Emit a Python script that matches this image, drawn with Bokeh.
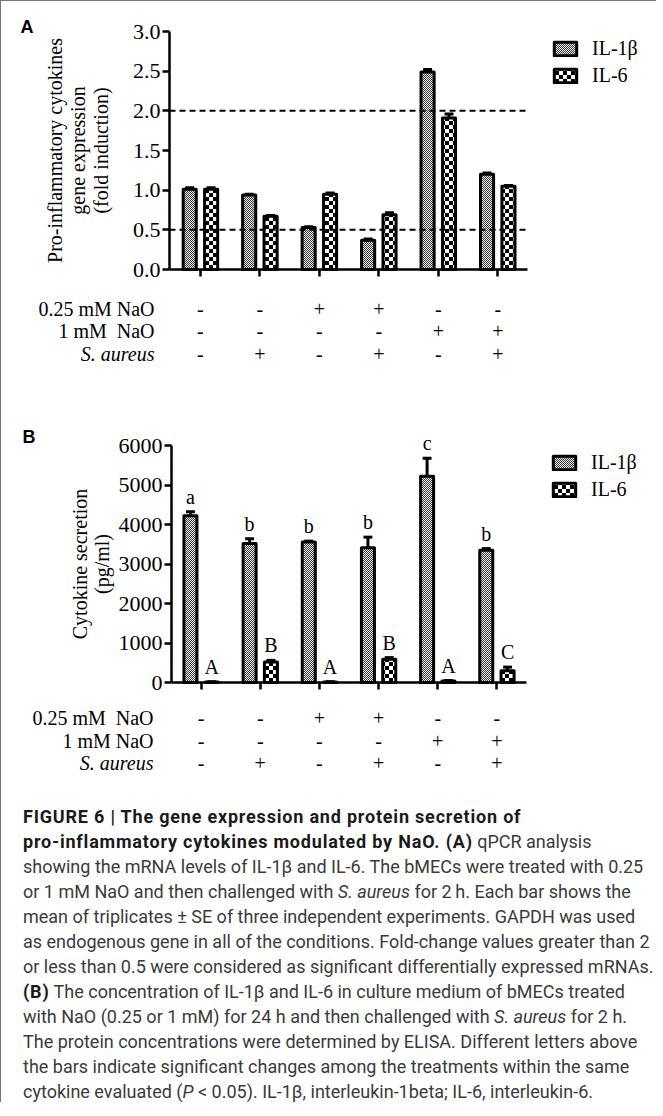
import math
import zlib
import struct
import base64
from bokeh.plotting import figure
from bokeh.models import (Range1d, FixedTicker, Label, LabelSet, Div, ImageURLTexture,
                          NumeralTickFormatter, ColumnDataSource, CustomJSTickFormatter)
from bokeh.layouts import column
from bokeh.embed import file_html
from bokeh.resources import INLINE
from bokeh.core.properties import value

# ---------------- data ----------------
series = ["IL-1β", "IL-6"]
n_groups = 6

# Panel A: fold induction
il1b_a = [1.01, 0.94, 0.53, 0.37, 2.49, 1.20]
il1b_a_err = [0.02, 0.01, 0.01, 0.015, 0.03, 0.015]
il6_a = [1.01, 0.67, 0.95, 0.69, 1.91, 1.05]
il6_a_err = [0.02, 0.01, 0.015, 0.025, 0.05, 0.01]
thresholds_a = [0.5, 2.0]
yticks_a = [0.0, 0.5, 1.0, 1.5, 2.0, 2.5, 3.0]

# Panel B: secretion (pg/ml)
il1b_b = [4220, 3520, 3560, 3410, 5220, 3350]
il1b_b_err = [100, 120, 20, 270, 460, 40]
il6_b = [15, 520, 15, 590, 40, 300]
il6_b_err = [5, 40, 5, 40, 10, 90]
letters_il1b = ["a", "b", "b", "b", "c", "b"]
letters_il6 = ["A", "B", "A", "B", "A", "C"]
yticks_b = [0, 1000, 2000, 3000, 4000, 5000, 6000]

# treatment table
na025 = ["-", "-", "+", "+", "-", "-"]
na1 = ["-", "-", "-", "-", "+", "+"]
saureus = ["-", "+", "-", "+", "-", "+"]
row_labels_a = ["0.25 mM NaO", "1 mM\u00a0 NaO", "S. aureus"]
row_labels_b = ["0.25 mM\u00a0 NaO", "1 mM NaO", "S. aureus"]

SERIF = "Liberation Serif"
W = 645
X0 = 9  # page x of figure left edge


def checker_uri(cell, c1, c2):
    """Small PNG checkerboard tile used as a bar texture."""
    n = 2 * cell
    rows = []
    for r in range(n):
        row = bytearray(b"\x00")
        for c in range(n):
            col = c1 if ((r // cell) + (c // cell)) % 2 == 0 else c2
            row += bytes(col)
        rows.append(bytes(row))
    raw = b"".join(rows)

    def chunk(t, d):
        return struct.pack(">I", len(d)) + t + d + struct.pack(">I", zlib.crc32(t + d) & 0xffffffff)

    png = (b"\x89PNG\r\n\x1a\n" + chunk(b"IHDR", struct.pack(">IIBBBBB", n, n, 8, 2, 0, 0, 0))
           + chunk(b"IDAT", zlib.compress(raw)) + chunk(b"IEND", b""))
    return "data:image/png;base64," + base64.b64encode(png).decode()


TEX_IL1B = checker_uri(1, (60, 60, 60), (235, 235, 235))
TEX_IL6 = checker_uri(4, (0, 0, 0), (255, 255, 255))


def make_panel(top, height, axl, axr, yt, yb, xa, ya, yticks, fmt, panel_letter,
               v1, e1, v2, e2, ylabel_lines, ylabel_x, row_labels, row_y, row_label_x,
               legend_xy, thresholds=None, letters=None, letter_off=0):
    kx = (xa[1] - xa[0]) / (axr - axl)
    ky = (ya[1] - ya[0]) / (yb - yt)
    x_start = xa[0] - (axl - X0) * kx
    x_end = xa[0] + (X0 + W - axl) * kx
    y_end = ya[1] + (yt - top) * ky
    y_start = ya[0] - (top + height - yb) * ky

    def dx(px):
        return xa[0] + (px - axl) * kx

    def dy(py):
        return ya[0] + (yb - py) * ky

    p = figure(width=W, height=height, x_range=Range1d(x_start, x_end),
               y_range=Range1d(y_start, y_end), output_backend="svg",
               toolbar_location=None, min_border=0)
    p.outline_line_color = None
    p.xgrid.visible = False
    p.ygrid.visible = False

    centers = [i + 0.5 for i in range(n_groups)]
    off = 0.18
    bw = 0.22
    x1 = [c - off for c in centers]
    x2 = [c + off for c in centers]

    p.vbar(x=x1, top=v1, bottom=0, width=bw, fill_color="#a8a8a8",
           hatch_pattern=value("il1b_tex"), hatch_extra={"il1b_tex": ImageURLTexture(url=TEX_IL1B)},
           line_color="black", line_width=3, line_join="round", legend_label=series[0])
    p.vbar(x=x2, top=v2, bottom=0, width=bw, fill_color="#808080",
           hatch_pattern=value("il6_tex"), hatch_extra={"il6_tex": ImageURLTexture(url=TEX_IL6)},
           line_color="black", line_width=3, line_join="round", legend_label=series[1])

    cap = 0.075
    for xs, vs, es in ((x1, v1, e1), (x2, v2, e2)):
        tops = [v + e for v, e in zip(vs, es)]
        p.segment(x0=xs, y0=vs, x1=xs, y1=tops, line_color="black", line_width=3)
        p.segment(x0=[x - cap for x in xs], y0=tops, x1=[x + cap for x in xs], y1=tops,
                  line_color="black", line_width=3)

    if thresholds:
        p.segment(x0=[xa[0]] * len(thresholds), y0=thresholds,
                  x1=[xa[1]] * len(thresholds), y1=thresholds,
                  line_color="black", line_width=2, line_dash="6 4")

    if letters:
        for xs, vs, es, ls in ((x1, v1, e1, letters[0]), (x2, v2, e2, letters[1])):
            src = ColumnDataSource(dict(x=xs, y=[v + e + letter_off for v, e in zip(vs, es)], t=ls))
            p.add_layout(LabelSet(x="x", y="y", text="t", source=src, text_font=SERIF,
                                  text_font_size="20px", text_align="center",
                                  text_baseline="alphabetic", text_color="black"))

    # axes placed at fixed data locations
    p.yaxis.fixed_location = xa[0]
    p.yaxis.bounds = ya
    p.xaxis.fixed_location = ya[0]
    p.xaxis.bounds = xa
    p.yaxis.ticker = FixedTicker(ticks=yticks)
    p.yaxis.formatter = NumeralTickFormatter(format=fmt)
    p.yaxis.major_label_text_font = SERIF
    p.yaxis.major_label_text_font_size = "22px"
    p.yaxis.major_label_text_color = "black"
    p.yaxis.major_label_standoff = 2
    p.xaxis.ticker = FixedTicker(ticks=centers)
    p.xaxis.formatter = CustomJSTickFormatter(code="return ''")
    for ax in (p.xaxis, p.yaxis):
        ax.axis_line_width = 2.5
        ax.axis_line_color = "black"
        ax.major_tick_line_width = 2.5
        ax.major_tick_line_color = "black"
        ax.major_tick_out = 7
        ax.major_tick_in = 0
        ax.minor_tick_line_color = None

    # y label lines (rotated)
    ymid = (ya[0] + ya[1]) / 2
    for txt, px in zip(ylabel_lines, ylabel_x):
        p.add_layout(Label(x=dx(px), y=ymid, text=txt, angle=math.pi / 2,
                           text_font=SERIF, text_font_size="20px", text_color="black",
                           text_align="center", text_baseline="middle"))

    # treatment table
    for lab, flags, py in zip(row_labels, (na025, na1, saureus), row_y):
        p.add_layout(Label(x=dx(row_label_x), y=dy(py), text=lab, text_font=SERIF,
                           text_font_size="20px", text_color="black",
                           text_font_style="italic" if lab.startswith("S.") else "normal",
                           text_align="right", text_baseline="middle"))
        src = ColumnDataSource(dict(x=centers, y=[dy(py)] * n_groups, t=flags))
        p.add_layout(LabelSet(x="x", y="y", text="t", source=src, text_font=SERIF,
                              text_font_size="20px", text_align="center",
                              text_baseline="middle", text_color="black"))

    # panel letter
    p.add_layout(Label(x=dx(panel_letter[1]), y=dy(panel_letter[2]), text=panel_letter[0],
                       text_font="Liberation Sans", text_font_style="bold",
                       text_font_size="18px", text_color="black",
                       text_align="left", text_baseline="top"))

    # legend
    lg = p.legend[0]
    lg.location = (legend_xy[0] - X0, top + height - legend_xy[1])
    lg.padding = 0
    lg.margin = 0
    lg.spacing = 4
    lg.glyph_width = 28
    lg.glyph_height = 17
    lg.label_standoff = 13
    lg.label_text_font = SERIF
    lg.label_text_font_size = "20px"
    lg.label_text_color = "black"
    lg.border_line_color = None
    lg.background_fill_alpha = 0
    return p


figA = make_panel(top=9, height=409, axl=177, axr=535, yt=39, yb=277,
                  xa=(-0.02, 6.0), ya=(0.0, 3.0), yticks=yticks_a, fmt="0.0",
                  panel_letter=("A", 28, 24),
                  v1=il1b_a, e1=il1b_a_err, v2=il6_a, e2=il6_a_err,
                  ylabel_lines=["Pro-inflammatory cytokines", "gene expression", "(fold induction)"],
                  ylabel_x=[62, 85, 108],
                  row_labels=row_labels_a, row_y=[316, 338.5, 361], row_label_x=162,
                  legend_xy=(559, 95), thresholds=thresholds_a)

figB = make_panel(top=418, height=372, axl=179, axr=534, yt=453, yb=690,
                  xa=(0.0, 6.0), ya=(0, 6000), yticks=yticks_b, fmt="0",
                  panel_letter=("B", 30, 434),
                  v1=il1b_b, e1=il1b_b_err, v2=il6_b, e2=il6_b_err,
                  ylabel_lines=["Cytokine secretion", "(pg/ml)"],
                  ylabel_x=[87, 109],
                  row_labels=row_labels_b, row_y=[725, 748, 770], row_label_x=161,
                  legend_xy=(558, 509), letters=(letters_il1b, letters_il6), letter_off=200)

B = "<b style='color:#1a1a1a; letter-spacing:0.8px'>"
caption_html = (
    "<div style=\"font-family: Roboto, sans-serif; font-size:18px; line-height:25px; "
    "color:#3a3a3a; white-space:nowrap; padding:17px 0 0 17px;\">"
    + B + "FIGURE 6 | The gene expression and protein secretion of</b><br>"
    + B + "pro-inflammatory cytokines modulated by NaO. (A)</b> qPCR analysis<br>"
    "showing the mRNA levels of IL-1β and IL-6. The bMECs were treated with 0.25<br>"
    "or 1 mM NaO and then challenged with <i>S. aureus</i> for 2\u2009h. Each bar shows the<br>"
    "mean of triplicates ± SE of three independent experiments. GAPDH was used<br>"
    "as endogenous gene in all of the conditions. Fold-change values greater than 2<br>"
    "or less than 0.5 were considered as significant differentially expressed mRNAs.<br>"
    + B + "(B)</b> The concentration of IL-1β and IL-6 in culture medium of bMECs treated<br>"
    "with NaO (0.25 or 1 mM) for 24 h and then challenged with <i>S. aureus</i> for 2 h.<br>"
    "The protein concentrations were determined by ELISA. Different letters above<br>"
    "the bars indicate significant changes among the treatments within the same<br>"
    "cytokine evaluated (<i>P</i> &lt; 0.05). IL-1β, interleukin-1beta; IL-6, interleukin-6."
    "</div>"
)
caption = Div(text=caption_html, width=W, height=310)

layout = column(figA, figB, caption,
                styles={"border-top": "1px solid #777777", "border-left": "1px solid #777777"})

open("out.html", "w").write(file_html(layout, INLINE))
